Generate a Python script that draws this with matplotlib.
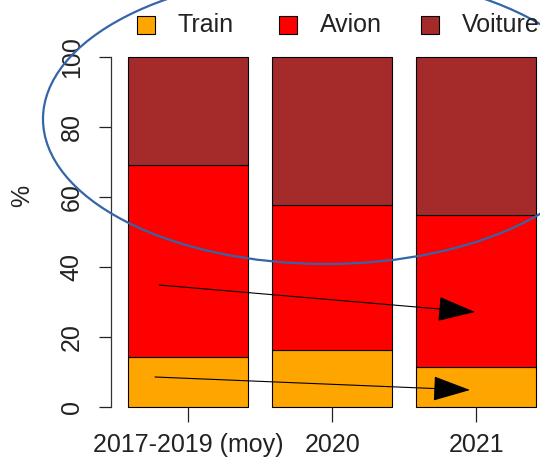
import matplotlib
matplotlib.use("Agg")
import matplotlib.pyplot as plt
from matplotlib.patches import Ellipse, Rectangle, FancyArrowPatch, ArrowStyle

categories = ["2017-2019 (moy)", "2020", "2021"]
series_names = ["Train", "Avion", "Voiture"]
train = [14.2, 16.3, 11.5]
avion = [54.9, 41.4, 43.4]
voiture = [30.9, 42.3, 45.1]
colors = ["#FFA500", "#FF0000", "#A52A2A"]
yticks = [0, 20, 40, 60, 80, 100]

plt.rcParams['font.family'] = ['Liberation Sans', 'DejaVu Sans']

W, H = 540, 462
fig = plt.figure(figsize=(W / 100, H / 100), dpi=100)
ax = fig.add_axes([111 / W, (H - 407) / H, 429 / W, 350 / H])

x = list(range(len(categories)))
bottom = [0] * len(x)
for vals, col in zip([train, avion, voiture], colors):
    ax.bar(x, vals, bottom=bottom, width=120 / 144, color=col,
           edgecolor="black", linewidth=0.8, clip_on=False)
    bottom = [b + v for b, v in zip(bottom, vals)]

ax.set_xlim(-77 / 144, 2 + 63.5 / 144)
ax.set_ylim(0, 100)
for s in ["top", "right", "bottom"]:
    ax.spines[s].set_visible(False)
ax.spines["left"].set_bounds(0, 100)
ax.spines["left"].set_linewidth(0.9)
ax.spines["left"].set_color("#333333")

ax.set_yticks(yticks)
ax.set_yticklabels([str(v) for v in yticks], rotation=90, va="center")
ax.tick_params(axis="y", length=8.6, width=0.9, pad=11, labelsize=18,
               colors="#222222")
ax.set_xticks(x)
ax.set_xticklabels(categories)
ax.tick_params(axis="x", length=11, width=0.9, pad=8, labelsize=18,
               colors="#222222")

fig.text(22 / W, 1 - 196 / H, "%", rotation=90, fontsize=18,
         ha="center", va="center", color="#222222")

# legend (manual, top)
sq = [137, 279, 421]
tx = [178, 320, 462]
for name, col, sx, tx_ in zip(series_names, colors, sq, tx):
    fig.add_artist(Rectangle((sx / W, 1 - 34 / H), 18 / W, 18 / H,
                             transform=fig.transFigure, facecolor=col,
                             edgecolor="black", linewidth=0.8))
    fig.text(tx_ / W, 1 - 25 / H, name, fontsize=18, ha="left",
             va="center", color="#222222")

# annotation ellipse
fig.add_artist(Ellipse((326 / W, 1 - 119 / H), 566 / W, 290 / H,
                       transform=fig.transFigure, fill=False,
                       edgecolor="#3565A8", linewidth=1.6))

# arrows
style = ArrowStyle("-|>", head_length=24, head_width=8)
for (x0, y0), (x1, y1) in [((159, 285), (475, 312)), ((155, 377), (470, 390))]:
    fig.add_artist(FancyArrowPatch(
        (x0, H - y0), (x1, H - y1), transform=None, arrowstyle=style,
        mutation_scale=1, color="black", linewidth=0.8,
        shrinkA=0, shrinkB=0))

fig.savefig("out.png", dpi=100)
